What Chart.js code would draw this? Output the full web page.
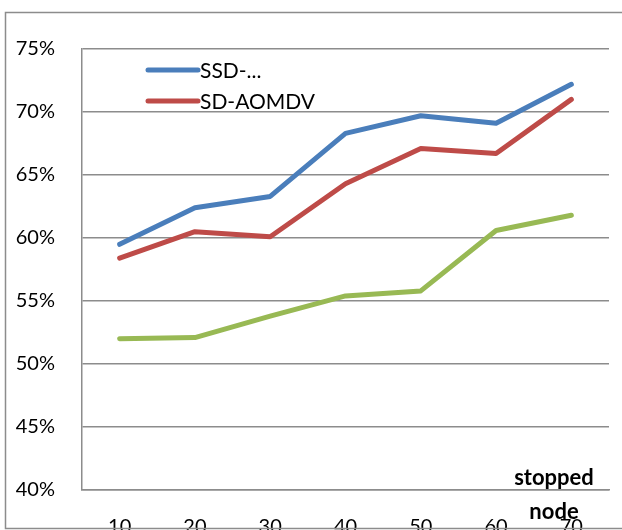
<!DOCTYPE html>
<html>
<head>
<meta charset="utf-8">
<script src="https://cdn.jsdelivr.net/npm/chart.js@4/dist/chart.umd.min.js"></script>
<style>
  body { margin: 0; background: #fff; }
  #wrap { width: 622px; height: 530px; position: relative; }
</style>
</head>
<body>
<div id="wrap"><canvas id="chart"></canvas></div>
<script>
const nodes = ["10", "20", "30", "40", "50", "60", "70"];
const ssdValues = [59.5, 62.4, 63.3, 68.3, 69.7, 69.1, 72.2];
const sdAomdvValues = [58.4, 60.5, 60.1, 64.3, 67.1, 66.7, 71.0];
const thirdValues = [52.0, 52.1, 53.8, 55.4, 55.8, 60.6, 61.8];
const seriesNames = ["SSD-...", "SD-AOMDV", ""];
const seriesColors = ["#4a7ebb", "#be4b48", "#98b954"];
const yTicks = [40, 45, 50, 55, 60, 65, 70, 75];

const fontFam = "Lato, 'Open Sans', sans-serif";

// frame, legend inside plot and the "stopped node" label
const extras = {
  id: "extras",
  afterDraw(chart) {
    const ctx = chart.ctx;
    const area = chart.chartArea;
    ctx.save();
    // legend (only first two series are shown)
    ctx.font = "21px " + fontFam;
    ctx.textBaseline = "middle";
    ctx.lineCap = "round";
    for (let i = 0; i < 2; i++) {
      const ds = chart.data.datasets[i];
      const y = area.top + 21 + i * 31;
      ctx.strokeStyle = ds.borderColor;
      ctx.lineWidth = 5;
      ctx.beginPath();
      ctx.moveTo(area.left + 66, y);
      ctx.lineTo(area.left + 116, y);
      ctx.stroke();
      ctx.fillStyle = "#000";
      ctx.fillText(ds.label, area.left + 118, y + 1);
    }
    // axis caption
    ctx.font = "bold 22px " + fontFam;
    ctx.textAlign = "center";
    ctx.fillText("stopped", area.right - 55, area.bottom - 12);
    ctx.fillText("node", area.right - 55, area.bottom + 22);
    // outer frame
    ctx.strokeStyle = "#8c8c8c";
    ctx.lineWidth = 1.5;
    ctx.beginPath();
    ctx.moveTo(622, 12.5);
    ctx.lineTo(5.5, 12.5);
    ctx.lineTo(5.5, 528.5);
    ctx.lineTo(622, 528.5);
    ctx.stroke();
    ctx.restore();
  }
};

new Chart(document.getElementById("chart"), {
  type: "line",
  data: {
    labels: nodes,
    datasets: [
      { label: seriesNames[0], data: ssdValues, borderColor: seriesColors[0] },
      { label: seriesNames[1], data: sdAomdvValues, borderColor: seriesColors[1] },
      { label: seriesNames[2], data: thirdValues, borderColor: seriesColors[2] }
    ]
  },
  options: {
    responsive: true,
    maintainAspectRatio: false,
    animation: false,
    layout: { padding: { top: 49, right: 13, left: 0, bottom: 0 } },
    elements: {
      point: { radius: 0 },
      line: { borderWidth: 5, tension: 0, borderCapStyle: "round", borderJoinStyle: "round", fill: false }
    },
    plugins: { legend: { display: false }, tooltip: { enabled: false } },
    scales: {
      x: {
        offset: true,
        grid: { display: false, drawTicks: false },
        border: { color: "#8c8c8c", width: 1.5 },
        ticks: { color: "#000", font: { family: fontFam, size: 20 }, padding: 25, maxRotation: 0 },
        afterFit(scale) { scale.height = 40; }
      },
      y: {
        min: 40,
        max: 75,
        afterBuildTicks(scale) { scale.ticks = yTicks.map(v => ({ value: v })); },
        grid: { color: "#8c8c8c", lineWidth: 1.5, drawTicks: false },
        border: { color: "#8c8c8c", width: 1.5 },
        ticks: { color: "#000", font: { family: fontFam, size: 20 }, padding: 27, callback: v => v + "%" },
        afterFit(scale) { scale.width = 82; }
      }
    }
  },
  plugins: [extras]
});
</script>
</body>
</html>
